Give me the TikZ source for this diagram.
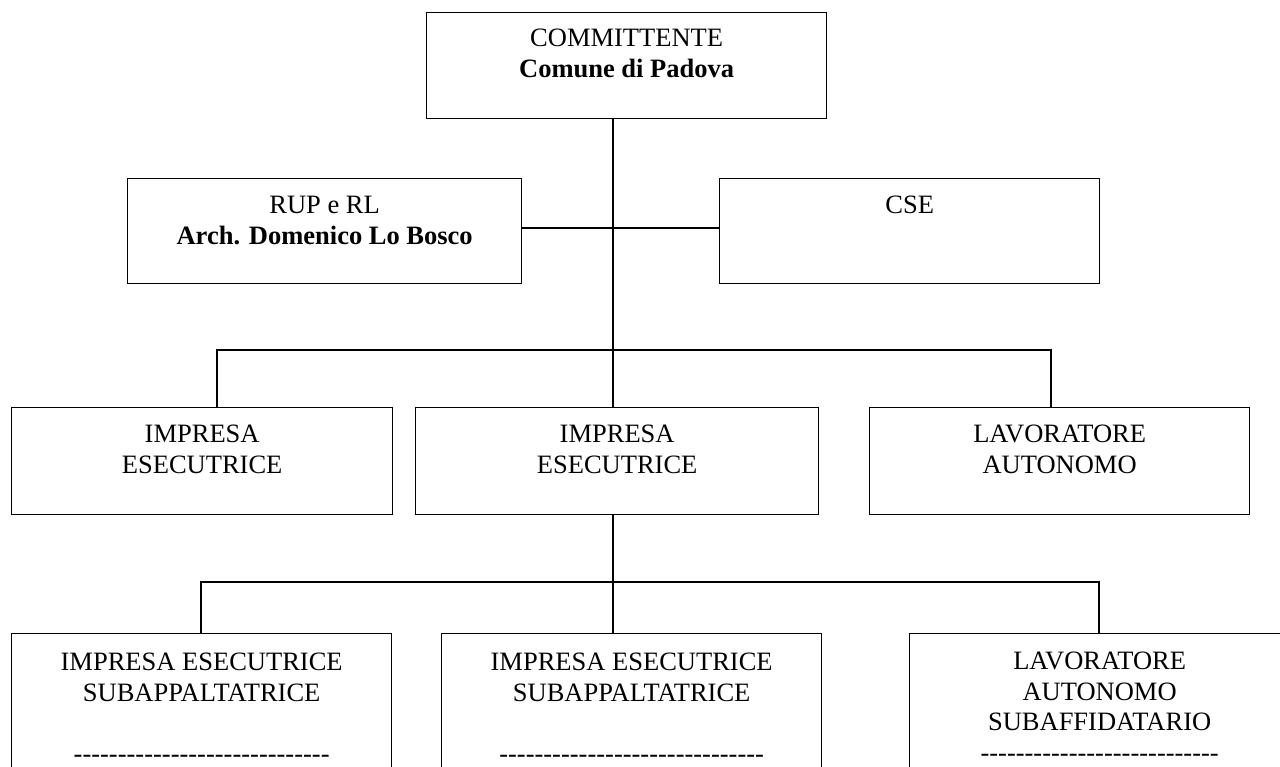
\documentclass[tikz,border=0pt]{standalone}
\usepackage{fontspec}
\setmainfont{Liberation Serif}

\newcommand\dashrow[1]{\foreach \k in {1,...,#1}{-}}

\tikzset{
  orgbox/.style={draw,line width=1.3pt,inner sep=0pt,anchor=north west},
  boxtext/.style={anchor=north,align=center,inner sep=0pt,
    font=\fontsize{26.5}{30.5}\selectfont},
  wire/.style={line width=1.2pt}
}

\begin{document}
\begin{tikzpicture}[x=1pt,y=-1pt]
  \useasboundingbox (0,0) rectangle (1280,767);

  % top
  \node[orgbox,minimum width=400pt,minimum height=106pt,
    label={[boxtext,yshift=-17pt]north:{COMMITTENTE\\\textbf{Comune di Padova}}}]
    (comm) at (426,12) {};

  % staff
  \node[orgbox,minimum width=394pt,minimum height=105pt,
    label={[boxtext,yshift=-18pt]north:{RUP e RL\\\textbf{Arch. Domenico Lo Bosco}}}]
    (rup) at (127,178) {};
  \node[orgbox,minimum width=380pt,minimum height=105pt,
    label={[boxtext,yshift=-18pt]north:{CSE}}]
    (cse) at (719,178) {};

  % firms
  \node[orgbox,minimum width=381pt,minimum height=107pt,
    label={[boxtext,yshift=-18pt]north:{IMPRESA\\ESECUTRICE}}]
    (impA) at (11,407) {};
  \node[orgbox,minimum width=403pt,minimum height=107pt,
    label={[boxtext,yshift=-18pt]north:{IMPRESA\\ESECUTRICE}}]
    (impB) at (415,407) {};
  \node[orgbox,minimum width=380pt,minimum height=107pt,
    label={[boxtext,yshift=-18pt]north:{LAVORATORE\\AUTONOMO}}]
    (impC) at (869,407) {};

  % subcontractors
  \node[orgbox,minimum width=380pt,minimum height=170pt,
    label={[boxtext,yshift=-20pt]north:{IMPRESA ESECUTRICE\\SUBAPPALTATRICE\\[30.5pt]\dashrow{29}}}]
    (subD) at (11,633) {};
  \node[orgbox,minimum width=380pt,minimum height=170pt,
    label={[boxtext,yshift=-20pt]north:{IMPRESA ESECUTRICE\\SUBAPPALTATRICE\\[30.5pt]\dashrow{30}}}]
    (subE) at (441,633) {};
  \node[orgbox,minimum width=380pt,minimum height=170pt,
    label={[boxtext,yshift=-19pt]north:{LAVORATORE\\AUTONOMO\\SUBAFFIDATARIO\\\dashrow{27}}}]
    (subF) at (909,633) {};

  % junctions
  \coordinate (spine) at (613,228);
  \coordinate (bus1) at (613,350);
  \coordinate (dropA) at (217,350);
  \coordinate (dropC) at (1051,350);
  \coordinate (bus2) at (613,582);
  \coordinate (dropD) at (201,582);
  \coordinate (dropF) at (1099,582);

  \draw[wire] (comm.south -| bus1) -- (bus1);
  \draw[wire] (rup.east |- spine) -- (cse.west |- spine);
  \draw[wire] (dropA |- impA.north) -- (dropA) -- (dropC) -- (dropC |- impC.north);
  \draw[wire] (bus1) -- (bus1 |- impB.north);
  \draw[wire] (impB.south -| bus2) -- (bus2);
  \draw[wire] (dropD |- subD.north) -- (dropD) -- (dropF) -- (dropF |- subF.north);
  \draw[wire] (bus2) -- (bus2 |- subE.north);
\end{tikzpicture}
\end{document}
